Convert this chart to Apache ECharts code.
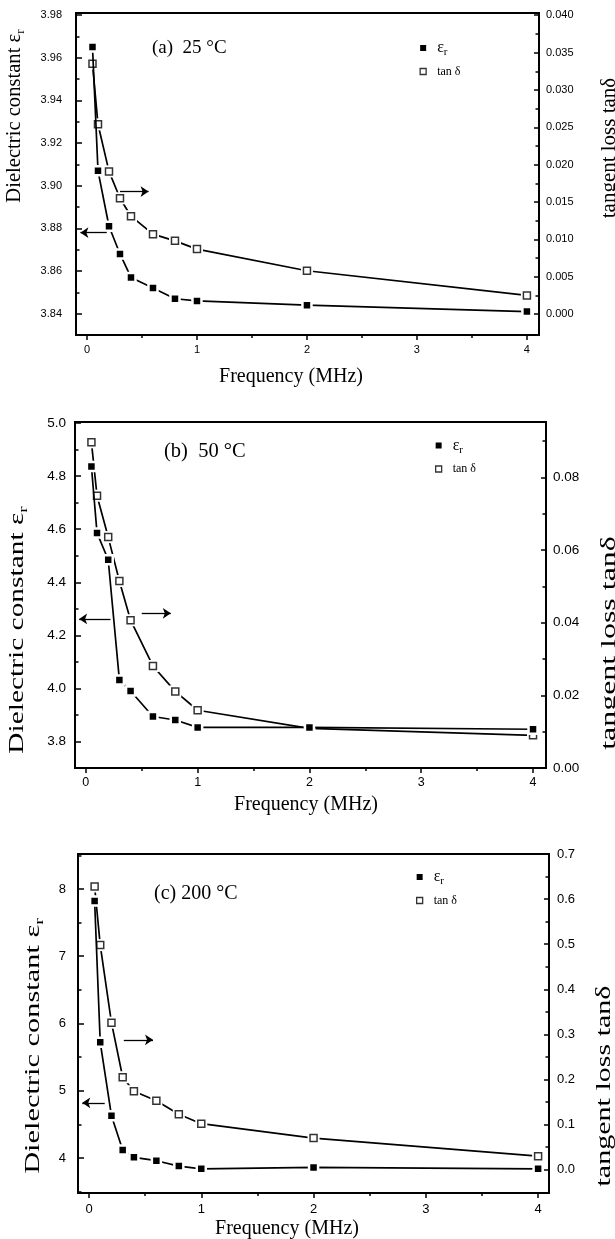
<!DOCTYPE html>
<html><head><meta charset="utf-8">
<script src="https://cdn.jsdelivr.net/npm/echarts@6/dist/echarts.min.js"></script>
<style>html,body{margin:0;padding:0;background:#fff}#c{width:615px;height:1239px}</style>
</head><body><div id="c"></div>
<script>
// ---------- data ----------
const freq = [0.05, 0.1, 0.2, 0.3, 0.4, 0.6, 0.8, 1, 2, 4];

const epsA = [3.965, 3.907, 3.881, 3.868, 3.857, 3.852, 3.847, 3.846, 3.844, 3.841];
const tanA = [0.0335, 0.0254, 0.0191, 0.0155, 0.0131, 0.0107, 0.0098, 0.0087, 0.0058, 0.0025];

const epsB = [4.836, 4.586, 4.485, 4.032, 3.990, 3.894, 3.881, 3.853, 3.853, 3.846];
const tanB = [0.0897, 0.0750, 0.0636, 0.0515, 0.0407, 0.0281, 0.0211, 0.0159, 0.0109, 0.0090];

const epsC = [7.82, 5.72, 4.63, 4.12, 4.01, 3.96, 3.88, 3.84, 3.86, 3.84];
const tanC = [0.628, 0.498, 0.326, 0.205, 0.174, 0.153, 0.123, 0.102, 0.070, 0.030];

// tick values
const xTicks = [0, 1, 2, 3, 4];
const xMinor = [0.5, 1.5, 2.5, 3.5];
const leftTicksA = [3.84, 3.86, 3.88, 3.90, 3.92, 3.94, 3.96, 3.98];
const leftMinorA = [3.85, 3.87, 3.89, 3.91, 3.93, 3.95, 3.97];
const rightTicksA = [0, 0.005, 0.010, 0.015, 0.020, 0.025, 0.030, 0.035, 0.040];
const rightMinorA = [0.0025, 0.0075, 0.0125, 0.0175, 0.0225, 0.0275, 0.0325, 0.0375];
const leftTicksB = [3.8, 4.0, 4.2, 4.4, 4.6, 4.8, 5.0];
const leftMinorB = [3.9, 4.1, 4.3, 4.5, 4.7, 4.9];
const rightTicksB = [0, 0.02, 0.04, 0.06, 0.08];
const rightMinorB = [0.01, 0.03, 0.05, 0.07, 0.09];
const leftTicksC = [4, 5, 6, 7, 8];
const leftMinorC = [3.5, 4.5, 5.5, 6.5, 7.5, 8.5];
const rightTicksC = [0, 0.1, 0.2, 0.3, 0.4, 0.5, 0.6, 0.7];
const rightMinorC = [0.05, 0.15, 0.25, 0.35, 0.45, 0.55, 0.65];

const panelTitles = ['(a)  25 °C', '(b)  50 °C', '(c) 200 °C'];
const xName = 'Frequency (MHz)';
const leftName = '{t|Dielectric constant ε}{s|r}';
const rightName = 'tangent loss tanδ';

// annotation arrows (data coords): [x1, x2, y]
const arrowsLeft = [[0.18, -0.06, 3.878], [0.22, -0.06, 4.262], [0.14, -0.06, 4.82]];
const arrowsRight = [[0.30, 0.56, 0.0164], [0.50, 0.76, 0.0426], [0.31, 0.57, 0.288]];

// ---------- layout / style ----------
const SERIF = '"Liberation Serif","Times New Roman",serif';
const SANS = '"Liberation Sans",Arial,sans-serif';

const panels = [
  { grid: {left: 76, right: 76, top: 13, bottom: 904}, x: [-0.1, 4.11], yl: [3.83, 3.981], yr: [-0.0028, 0.0403],
    eps: epsA, tan: tanA, lt: leftTicksA, lm: leftMinorA, rt: rightTicksA, rm: rightMinorA, ld: 2, rd: 3, fs: 11, xfs: 11,
    xgap: 30, xpad: [0,33,0,0], tfs: 19,
    lname: {x: 15, y: 116, s: 1.03}, rname: {x: 609, y: 148, s: 1.0},
    lmargin: 14, rmargin: 7, xmargin: 9, legend: {left: 419.5, top: 40}, title: {left: 152, top: 39} },
  { grid: {left: 75, right: 69, top: 422, bottom: 471}, x: [-0.097, 4.116], yl: [3.7, 5.004], yr: [0, 0.0953],
    eps: epsB, tan: tanB, lt: leftTicksB, lm: leftMinorB, rt: rightTicksB, rm: rightMinorB, ld: 1, rd: 2, fs: 13.5, xfs: 12.5,
    xgap: 25, xpad: [0,9,0,0], tfs: 20.5,
    lname: {x: 17.6, y: 630, s: 1.47}, rname: {x: 609, y: 643, s: 1.52},
    lmargin: 9, rmargin: 7, xmargin: 8, legend: {left: 435, top: 437.5}, title: {left: 164, top: 441} },
  { grid: {left: 78, right: 66, top: 854, bottom: 46}, x: [-0.098, 4.097], yl: [3.48, 8.52], yr: [-0.0517, 0.7],
    eps: epsC, tan: tanC, lt: leftTicksC, lm: leftMinorC, rt: rightTicksC, rm: rightMinorC, ld: 0, rd: 1, fs: 13, xfs: 13,
    xgap: 22, xpad: [0,53,0,0], tfs: 20,
    lname: {x: 34, y: 1046, s: 1.52}, rname: {x: 604, y: 1086, s: 1.43},
    lmargin: 12, rmargin: 8, xmargin: 10, legend: {left: 416, top: 869}, title: {left: 154, top: 884} }
];

const AX = {color: '#000', width: 2};

const grids = [], xAxes = [], yAxes = [], series = [], legends = [], titles = [], graphics = [];
panels.forEach((p, i) => {
  grids.push(Object.assign({show: true, borderColor: '#000', borderWidth: 2, backgroundColor: '#fff', outerBoundsMode: 'none'}, p.grid));
  const lab = (vals, dec, margin, fs) => ({show: true, customValues: vals, formatter: v => Number(v).toFixed(dec),
    fontFamily: SANS, fontSize: fs, color: '#000', margin: margin});
  xAxes.push({type: 'value', gridIndex: i, min: p.x[0], max: p.x[1], position: 'bottom',
    axisLine: {show: true, onZero: false, lineStyle: AX},
    axisTick: {show: true, inside: false, length: 5, customValues: xTicks, lineStyle: {color: '#000', width: 1.5}},
    axisLabel: lab(xTicks, 0, p.xmargin, p.xfs), splitLine: {show: false},
    name: xName, nameLocation: 'middle', nameGap: p.xgap,
    nameTextStyle: {fontFamily: SERIF, fontSize: 20, lineHeight: 24, color: '#000', padding: p.xpad}});
  xAxes.push({type: 'value', gridIndex: i, min: p.x[0], max: p.x[1], position: 'bottom',
    axisLine: {show: false, onZero: false},
    axisTick: {show: true, inside: false, length: 3, customValues: xMinor, lineStyle: {color: '#000', width: 1.5}},
    axisLabel: {show: false}, splitLine: {show: false}});
  yAxes.push({type: 'value', gridIndex: i, min: p.yl[0], max: p.yl[1], position: 'left',
    axisLine: {show: true, onZero: false, lineStyle: AX},
    axisTick: {show: true, inside: true, length: 6, customValues: p.lt, lineStyle: {color: '#000', width: 1.5}},
    axisLabel: lab(p.lt, p.ld, p.lmargin, p.fs), splitLine: {show: false}});
  yAxes.push({type: 'value', gridIndex: i, min: p.yl[0], max: p.yl[1], position: 'left',
    axisLine: {show: false, onZero: false},
    axisTick: {show: true, inside: true, length: 3.5, customValues: p.lm, lineStyle: {color: '#000', width: 1.5}},
    axisLabel: {show: false}, splitLine: {show: false}});
  yAxes.push({type: 'value', gridIndex: i, min: p.yr[0], max: p.yr[1], position: 'right',
    axisLine: {show: true, onZero: false, lineStyle: AX},
    axisTick: {show: true, inside: true, length: 5, customValues: p.rt, lineStyle: {color: '#000', width: 1.5}},
    axisLabel: lab(p.rt, p.rd, p.rmargin, p.fs), splitLine: {show: false}});
  yAxes.push({type: 'value', gridIndex: i, min: p.yr[0], max: p.yr[1], position: 'right',
    axisLine: {show: false, onZero: false},
    axisTick: {show: true, inside: true, length: 3.5, customValues: p.rm, lineStyle: {color: '#000', width: 1.5}},
    axisLabel: {show: false}, splitLine: {show: false}});

  const xi = 2 * i, yl = 4 * i, yr = 4 * i + 2;
  const al = arrowsLeft[i], ar = arrowsRight[i];
  const arrowStyle = {symbol: ['none', 'arrow'], symbolSize: 8, silent: true, label: {show: false},
    lineStyle: {color: '#000', width: 1.3, type: 'solid'}, emphasis: {disabled: true}};
  series.push({type: 'line', name: 'tanline' + i, xAxisIndex: xi, yAxisIndex: yr, z: 2,
    data: freq.map((f, k) => [f, p.tan[k]]), showAllSymbol: true, symbol: 'rect', symbolSize: 12,
    itemStyle: {color: '#fff', borderWidth: 0}, lineStyle: {color: '#000', width: 1.7}, silent: true,
    markLine: Object.assign({}, arrowStyle, {data: [[{coord: [ar[0], ar[2]]}, {coord: [ar[1], ar[2]]}]]})});
  series.push({type: 'scatter', name: 'tan' + i, xAxisIndex: xi, yAxisIndex: yr, z: 3,
    data: freq.map((f, k) => [f, p.tan[k]]), symbol: 'rect', symbolSize: 7,
    itemStyle: {color: '#fff', borderColor: '#000', borderWidth: 1.5}});
  series.push({type: 'line', name: 'eps' + i, xAxisIndex: xi, yAxisIndex: yl, z: 4,
    data: freq.map((f, k) => [f, p.eps[k]]), showAllSymbol: true, symbol: 'rect', symbolSize: 9,
    itemStyle: {color: '#000', borderColor: '#fff', borderWidth: 2.5}, lineStyle: {color: '#000', width: 1.7},
    markLine: Object.assign({}, arrowStyle, {data: [[{coord: [al[0], al[2]]}, {coord: [al[1], al[2]]}]]})});

  legends.push({orient: 'vertical', left: p.legend.left, top: p.legend.top, padding: 0, itemGap: 7.5,
    itemWidth: 6, itemHeight: 6, selectedMode: false,
    data: [{name: 'eps' + i, icon: 'rect', itemStyle: {color: '#000', borderWidth: 0}},
           {name: 'tan' + i, icon: 'rect', itemStyle: {color: '#fff', borderColor: '#000', borderWidth: 1.3}}],
    formatter: n => n.startsWith('eps') ? '{e|ε}{r|r}' : '{t|tan δ}',
    textStyle: {padding: [0, 0, 0, 6], rich: {
      e: {fontFamily: SERIF, fontSize: 16, lineHeight: 20, color: '#000'},
      r: {fontFamily: SERIF, fontSize: 11, lineHeight: 11, verticalAlign: 'bottom', color: '#000'},
      t: {fontFamily: SERIF, fontSize: 12, lineHeight: 20, color: '#000'}}}});
  titles.push({text: panelTitles[i], left: p.title.left, top: p.title.top, padding: 0,
    textStyle: {fontFamily: SERIF, fontSize: p.tfs, fontWeight: 'normal', color: '#000'}});

  // rotated axis titles (the scanned figure stretches them vertically)
  graphics.push({type: 'text', x: p.lname.x, y: p.lname.y, rotation: Math.PI / 2, scaleX: p.lname.s, silent: true,
    style: {text: leftName, align: 'center', verticalAlign: 'middle', fill: '#000',
      font: '20px ' + SERIF,
      rich: {t: {fontFamily: SERIF, fontSize: 20, lineHeight: 24, fill: '#000'},
             s: {fontFamily: SERIF, fontSize: 13, lineHeight: 13, verticalAlign: 'bottom', fill: '#000'}}}});
  graphics.push({type: 'text', x: p.rname.x, y: p.rname.y, rotation: Math.PI / 2, scaleX: p.rname.s, silent: true,
    style: {text: rightName, align: 'center', verticalAlign: 'middle', fill: '#000', font: '21px ' + SERIF}});
});

const chart = echarts.init(document.getElementById('c'), null, {renderer: 'canvas'});
chart.setOption({
  animation: false, backgroundColor: '#fff',
  title: titles, legend: legends, grid: grids, xAxis: xAxes, yAxis: yAxes, series: series,
  graphic: graphics
});
</script></body></html>
